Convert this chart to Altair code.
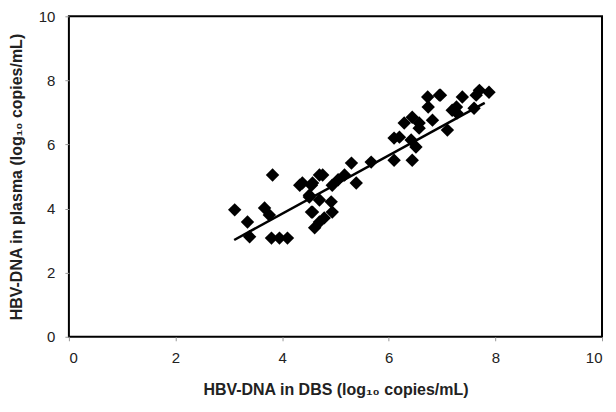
import altair as alt
import pandas as pd

dbs = [3.11, 3.35, 3.39, 3.67, 3.76, 3.82, 3.80, 3.95, 4.10, 4.33, 4.38, 4.55, 4.57,
       4.70, 4.51, 4.55, 4.61, 4.70, 4.76, 4.94, 5.05, 5.17, 5.30, 5.39, 4.51, 4.70,
       4.92, 4.94, 4.57, 4.79, 5.67, 6.10, 6.10, 6.20, 6.29, 6.42, 6.44, 6.51, 6.44,
       6.57, 6.73, 6.74, 6.82, 6.97, 6.57, 7.10, 7.19, 7.27, 7.28, 7.38, 7.60, 7.64,
       7.70, 7.88, 6.95]
plasma = [3.96, 3.58, 3.12, 4.02, 3.80, 5.05, 3.08, 3.08, 3.08, 4.73, 4.80, 4.73, 4.80,
          5.05, 4.36, 3.89, 3.40, 3.58, 5.05, 4.73, 4.90, 5.05, 5.42, 4.80, 4.42, 4.27,
          4.21, 3.89, 3.89, 3.71, 5.45, 5.51, 6.20, 6.23, 6.67, 6.14, 6.85, 5.92, 5.51,
          6.67, 7.48, 7.17, 6.76, 7.54, 6.51, 6.45, 7.07, 7.17, 6.98, 7.48, 7.13, 7.54,
          7.69, 7.63, 7.54]

fit_x = [3.1, 7.8]
fit_y = [3.02, 7.30]

pts = pd.DataFrame({"x": dbs, "y": plasma})
fit = pd.DataFrame({"x": fit_x, "y": fit_y})

xenc = alt.X("x:Q", scale=alt.Scale(domain=[0, 10], nice=False),
             axis=alt.Axis(values=[0, 2, 4, 6, 8, 10], title="HBV-DNA in DBS (log₁₀ copies/mL)",
                           grid=False, domain=False, tickColor="#999999", tickSize=4,
                           labelPadding=10, titlePadding=16))
yenc = alt.Y("y:Q", scale=alt.Scale(domain=[0, 10], nice=False),
             axis=alt.Axis(values=[0, 2, 4, 6, 8, 10], title="HBV-DNA in plasma (log₁₀ copies/mL)",
                           grid=False, domain=False, tickColor="#999999", tickSize=4,
                           labelPadding=10, titlePadding=14))

points = alt.Chart(pts).mark_point(shape="diamond", filled=True, color="black",
                                   opacity=1, size=180).encode(x=xenc, y=yenc)
line = alt.Chart(fit).mark_line(color="black", strokeWidth=2.5).encode(x="x:Q", y="y:Q")

chart = alt.layer(points, line).properties(
    width=534, height=321, padding={"left": 0, "top": 1, "right": 5, "bottom": 0}
).configure_view(stroke="black", strokeWidth=2).configure_axis(
    labelFont="Liberation Sans", labelFontSize=15, labelColor="#222222",
    titleFont="Liberation Sans", titleFontSize=16, titleFontWeight="bold", titleColor="#222222"
)

chart.save("out.html", embed_options={"renderer": "svg", "actions": False})
